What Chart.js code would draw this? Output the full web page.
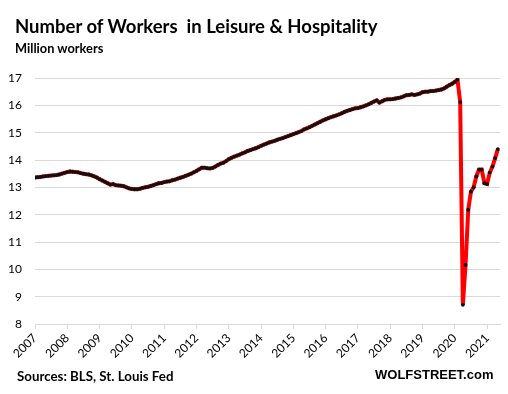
<!DOCTYPE html>
<html>
<head>
<meta charset="utf-8">
<script src="https://cdn.jsdelivr.net/npm/chart.js@4.4.1/dist/chart.umd.min.js"></script>
<style>
  html, body { margin: 0; padding: 0; background: #fff; }
  #wrap { position: relative; width: 508px; height: 394px; font-family: Lato, "Open Sans", sans-serif; }
  #chart { position: absolute; left: 0; top: 0; }
  .txt { position: absolute; white-space: nowrap; color: #000; font-weight: bold; line-height: 1; }
  #title { left: 15px; top: 17px; font-size: 18.5px; }
  #subtitle { left: 15px; top: 42px; font-size: 12.8px; }
  #source { left: 17px; top: 370px; font-size: 13.3px; }
  #brand { left: 375px; top: 368px; font-size: 13px; font-family: "Liberation Sans", Arial, sans-serif; }
</style>
</head>
<body>
<div id="wrap">
  <canvas id="chart" width="508" height="394"></canvas>
  <div class="txt" id="title">Number of Workers&nbsp; in Leisure &amp; Hospitality</div>
  <div class="txt" id="subtitle">Million workers</div>
  <div class="txt" id="source">Sources: BLS, St. Louis Fed</div>
  <div class="txt" id="brand">WOLFSTREET.com</div>
</div>
<script>
document.addEventListener('DOMContentLoaded', function() {

// Monthly data, Jan 2007 - May 2021 (million workers)
const startYear = 2007;
const workers = [
    // 2007
    13.36, 13.37, 13.38, 13.40, 13.41, 13.42, 13.43, 13.44, 13.45, 13.47, 13.50, 13.53,
    // 2008
    13.56, 13.58, 13.57, 13.56, 13.55, 13.52, 13.50, 13.48, 13.47, 13.44, 13.40, 13.36,
    // 2009
    13.30, 13.25, 13.20, 13.15, 13.10, 13.12, 13.08, 13.07, 13.06, 13.04, 13.00, 12.96,
    // 2010
    12.94, 12.93, 12.93, 12.95, 12.98, 13.00, 13.02, 13.05, 13.08, 13.12, 13.15, 13.16,
    // 2011
    13.19, 13.21, 13.22, 13.26, 13.28, 13.32, 13.35, 13.38, 13.42, 13.46, 13.50, 13.55,
    // 2012
    13.60, 13.66, 13.72, 13.72, 13.70, 13.69, 13.71, 13.76, 13.82, 13.87, 13.90, 13.96,
    // 2013
    14.03, 14.08, 14.12, 14.16, 14.20, 14.24, 14.28, 14.33, 14.36, 14.40, 14.43, 14.47,
    // 2014
    14.52, 14.56, 14.60, 14.64, 14.67, 14.70, 14.74, 14.77, 14.80, 14.84, 14.87, 14.91,
    // 2015
    14.95, 14.98, 15.02, 15.06, 15.12, 15.16, 15.20, 15.25, 15.30, 15.35, 15.40, 15.45,
    // 2016
    15.49, 15.53, 15.57, 15.60, 15.63, 15.67, 15.71, 15.76, 15.80, 15.83, 15.86, 15.89,
    // 2017
    15.90, 15.93, 15.96, 16.00, 16.04, 16.09, 16.14, 16.18, 16.10, 16.15, 16.20, 16.22,
    // 2018
    16.22, 16.23, 16.25, 16.27, 16.29, 16.33, 16.37, 16.38, 16.40, 16.38, 16.40, 16.43,
    // 2019
    16.48, 16.50, 16.50, 16.52, 16.52, 16.54, 16.56, 16.58, 16.62, 16.68, 16.74, 16.79,
    // 2020
    16.86, 16.94, 16.12, 8.70, 10.16, 12.18, 12.84, 13.00, 13.40, 13.65, 13.65, 13.15,
    // 2021
    13.12, 13.54, 13.76, 14.07, 14.40
];
const yearTicks = [2007, 2008, 2009, 2010, 2011, 2012, 2013, 2014, 2015, 2016, 2017, 2018, 2019, 2020, 2021];
const yTicks = [8, 9, 10, 11, 12, 13, 14, 15, 16, 17];

// month index -> fractional year for the x axis
const points = workers.map((v, i) => ({ x: startYear + i / 12, y: v }));

const ctx = document.getElementById('chart').getContext('2d');
window.workersChart = new Chart(ctx, {
    type: 'line',
    data: {
        datasets: [{
            label: 'Leisure & Hospitality',
            data: points,
            borderColor: '#ff0000',
            borderWidth: 4,
            pointRadius: 1.9,
            pointBackgroundColor: '#111',
            pointBorderWidth: 0,
            tension: 0,
            fill: false
        }]
    },
    options: {
        responsive: false,
        animation: false,
        devicePixelRatio: 1,
        layout: { padding: { left: 8, right: 8, top: 78, bottom: 36 } },
        plugins: {
            legend: { display: false },
            tooltip: { enabled: false }
        },
        scales: {
            x: {
                type: 'linear',
                min: 2007,
                max: 2021.4,
                afterBuildTicks: function(scale) {
                    scale.ticks = yearTicks.map(v => ({ value: v }));
                },
                afterFit: function(scale) { scale.height = 34; },
                grid: { drawOnChartArea: false, drawTicks: true, tickLength: 5, color: '#d9d9d9' },
                border: { display: true, color: '#d9d9d9', width: 1 },
                ticks: {
                    maxRotation: 45,
                    minRotation: 45,
                    padding: 2,
                    color: '#000',
                    font: { family: 'Lato', size: 12 },
                    callback: v => String(v)
                }
            },
            y: {
                min: 8,
                max: 17,
                afterBuildTicks: function(scale) {
                    scale.ticks = yTicks.map(v => ({ value: v }));
                },
                afterFit: function(scale) { scale.width = 27; },
                grid: { color: '#d9d9d9', drawTicks: false },
                border: { display: false },
                ticks: {
                    padding: 13,
                    color: '#000',
                    font: { family: 'Lato', size: 12 }
                }
            }
        }
    }
});

});
</script>
</body>
</html>
